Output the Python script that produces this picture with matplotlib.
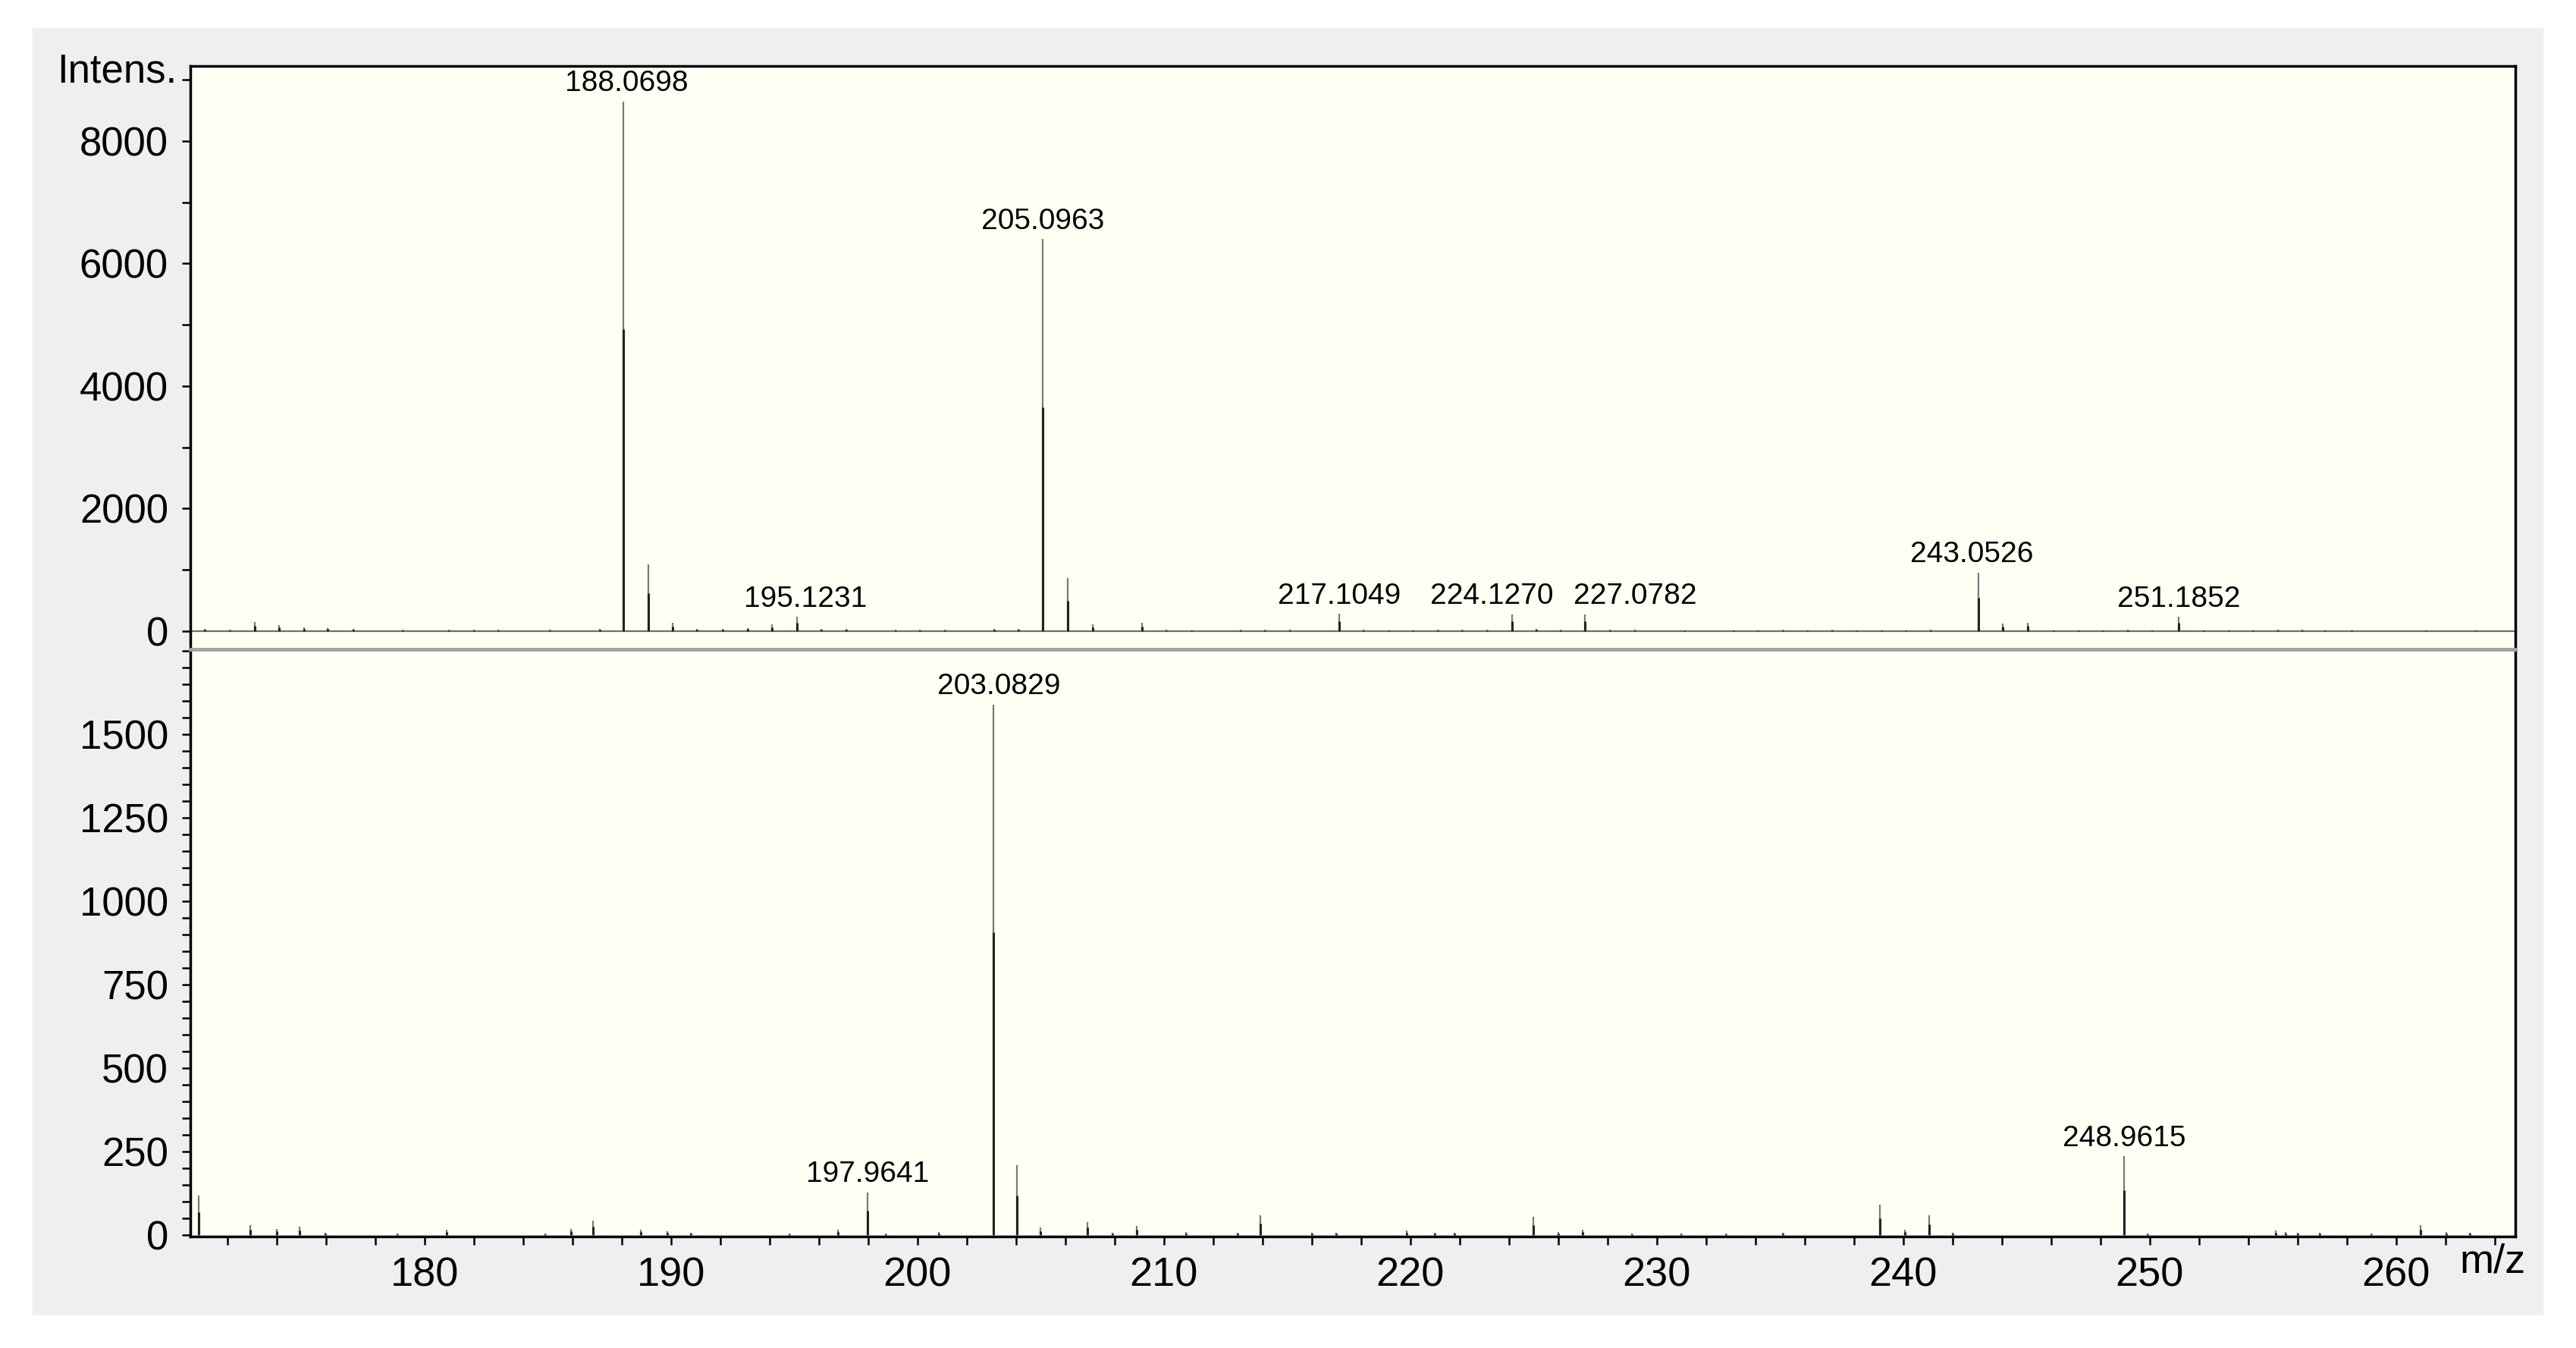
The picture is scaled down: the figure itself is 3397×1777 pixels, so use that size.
import numpy as np
import matplotlib.pyplot as plt
from matplotlib.patches import Rectangle
from matplotlib.ticker import MultipleLocator, FixedLocator

plt.rcParams['font.family'] = ['Liberation Sans', 'DejaVu Sans']

# upper spectrum (m/z, intensity)
top_mz = [171.07, 172.1, 173.1, 174.1, 175.1, 176.06, 177.1, 179.1, 181.0, 182.0,
          183.0, 185.07, 187.1, 188.0698, 189.07, 190.08, 191.05, 192.1, 193.1, 194.1,
          195.1231, 196.1, 197.1, 199.1, 200.1, 201.1, 203.1, 204.1, 205.0963, 206.1,
          207.1, 209.1, 210.1, 211.1, 213.1, 214.1, 215.1, 217.1049, 218.1, 219.1,
          220.1, 221.1, 222.1, 223.1, 224.1270, 225.1, 226.1, 227.0782, 228.1, 229.1,
          231.1, 233.1, 234.1, 235.1, 236.1, 237.1, 238.1, 239.1, 240.1, 241.1,
          243.0526, 244.05, 245.06, 246.1, 247.1, 248.1, 249.1, 250.1, 251.1852, 252.2,
          253.2, 254.2, 255.2, 256.2, 257.1, 258.2, 261.2, 263.2]
top_int = [30, 20, 145, 95, 60, 50, 30, 20, 25, 20,
           20, 20, 40, 8650, 1090, 135, 30, 30, 50, 105,
           230, 30, 30, 20, 25, 25, 35, 30, 6400, 860,
           105, 135, 20, 15, 20, 20, 20, 278, 20, 15,
           15, 20, 25, 25, 270, 30, 20, 270, 25, 25,
           15, 15, 15, 20, 15, 20, 15, 15, 15, 20,
           955, 125, 137, 15, 15, 15, 25, 15, 228, 15,
           15, 15, 25, 20, 15, 15, 15, 15]

# lower spectrum (m/z, intensity)
bot_mz = [170.85, 172.93, 174.0, 174.93, 175.97, 178.9, 180.9, 184.9, 185.93, 186.82,
          188.77, 189.84, 190.8, 194.8, 196.78, 197.9641, 198.7, 200.86, 203.0829, 204.05,
          205.0, 206.9, 207.9, 208.9, 210.9, 213.0, 213.9, 216.0, 217.0, 219.85,
          221.0, 221.8, 225.0, 226.0, 227.0, 229.0, 231.0, 232.8, 235.1, 239.05,
          240.06, 241.04, 242.0, 248.9615, 249.9, 255.1, 255.5, 256.0, 256.9, 259.0,
          261.0, 262.05, 263.0]
bot_int = [120, 30, 20, 25, 8, 5, 17, 5, 20, 45,
           17, 12, 8, 5, 17, 129, 6, 10, 1590, 210,
           23, 40, 8, 29, 11, 8, 60, 8, 8, 15,
           8, 8, 55, 10, 17, 6, 5, 5, 8, 91,
           17, 59, 8, 237, 6, 15, 10, 8, 8, 5,
           30, 10, 8]

top_labels = [188.0698, 195.1231, 205.0963, 217.1049, 224.1270, 227.0782, 243.0526, 251.1852]
bot_labels = [197.9641, 203.0829, 248.9615]

top_yticks = [0, 2000, 4000, 6000, 8000]
bot_yticks = [0, 250, 500, 750, 1000, 1250, 1500]

# horizontal nudges (points) of the peak labels, as in the original software
label_dx = {188.0698: 3, 195.1231: 8, 224.1270: -19, 227.0782: 48, 243.0526: -6, 203.0829: 5}

fig = plt.figure(figsize=(33.98, 17.77), dpi=100)
fig.patches.append(Rectangle((0.0127, 0.024), 0.9743, 0.955, transform=fig.transFigure,
                             facecolor='#efefef', edgecolor='none', zorder=-1))

ax_top = fig.add_axes([0.0739, 0.5183, 0.9024, 0.4329])
ax_bot = fig.add_axes([0.0739, 0.0829, 0.9024, 0.4354], sharex=ax_top)


def draw_spectrum(ax, mz, inten, labels):
    mz = np.asarray(mz)
    inten = np.asarray(inten, dtype=float)
    ax.vlines(mz, 0, inten, color='#7a7a7a', lw=1.6, zorder=3)
    ax.vlines(mz, 0, inten * 0.57, color='#222222', lw=2.2, zorder=4)
    for m in labels:
        h = inten[np.argmin(np.abs(mz - m))]
        ax.annotate(f'{m:.4f}', xy=(m, h), xytext=(label_dx.get(m, 0), 4),
                    textcoords='offset points', ha='center', va='bottom', fontsize=28)


for ax in (ax_top, ax_bot):
    ax.set_facecolor('#fffff4')
    for s in ('left', 'right', 'top', 'bottom'):
        ax.spines[s].set_linewidth(2.5)
        ax.spines[s].set_color('black')
    ax.tick_params(axis='y', which='both', direction='out', length=8, width=1.8,
                   labelsize=38, pad=13)

# upper panel
ax_top.axhline(0, color='#6e6e6e', lw=1.6, zorder=2)
draw_spectrum(ax_top, top_mz, top_int, top_labels)
ax_top.spines['bottom'].set_visible(False)
ax_top.tick_params(axis='x', which='both', bottom=False, labelbottom=False)
ax_top.yaxis.set_major_locator(FixedLocator(top_yticks))
ax_top.yaxis.set_minor_locator(MultipleLocator(1000))
ax_top.set_ylim(-300, 9230)
ax_top.annotate('Intens.', xy=(0, 9000), xycoords=('axes fraction', 'data'),
                xytext=(-13, 8), textcoords='offset points', ha='right', va='center',
                fontsize=38)

# lower panel
draw_spectrum(ax_bot, bot_mz, bot_int, bot_labels)
ax_bot.spines['top'].set_color('#a2a2a2')
ax_bot.spines['top'].set_linewidth(3.5)
ax_bot.yaxis.set_major_locator(FixedLocator(bot_yticks))
ax_bot.yaxis.set_minor_locator(MultipleLocator(50))
ax_bot.set_ylim(-3, 1755)
ax_bot.xaxis.set_major_locator(MultipleLocator(10))
ax_bot.xaxis.set_minor_locator(MultipleLocator(2))
ax_bot.tick_params(axis='x', which='both', direction='out', length=8, width=1.8,
                   labelsize=39, pad=11)
ax_bot.set_xlim(170.5, 264.85)
ax_bot.annotate('m/z', xy=(0.99, 0), xycoords='axes fraction', xytext=(0, -24),
                textcoords='offset points', ha='center', va='center', fontsize=39)

fig.savefig('out.png', dpi=100)
